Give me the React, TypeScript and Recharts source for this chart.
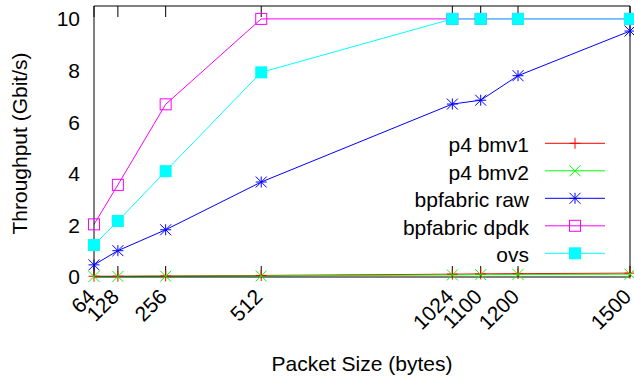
import React from "react";
import { LineChart, Line, XAxis, YAxis, Legend } from "recharts";

const packetSizes = [64, 128, 256, 512, 1024, 1100, 1200, 1500];
const p4Bmv1 = [0.03, 0.03, 0.04, 0.06, 0.11, 0.12, 0.13, 0.15];
const p4Bmv2 = [0.02, 0.02, 0.03, 0.04, 0.08, 0.09, 0.1, 0.11];
const bpfabricRaw = [0.47, 1.02, 1.83, 3.68, 6.7, 6.85, 7.8, 9.53];
const bpfabricDpdk = [2.04, 3.57, 6.69, 10, 10, 10, 10, 10];
const ovs = [1.24, 2.17, 4.1, 7.93, 10, 10, 10, 10];
const yTicks = [0, 2, 4, 6, 8, 10];

const FONT = '"Liberation Sans", Arial, sans-serif';
const FS = 21;

type Shape = "plus" | "cross" | "star" | "square" | "filled";

const series: { key: string; name: string; color: string; shape: Shape }[] = [
  { key: "bmv1", name: "p4 bmv1", color: "#ff0000", shape: "plus" },
  { key: "bmv2", name: "p4 bmv2", color: "#00ff00", shape: "cross" },
  { key: "raw", name: "bpfabric raw", color: "#0000ff", shape: "star" },
  { key: "dpdk", name: "bpfabric dpdk", color: "#ff00ff", shape: "square" },
  { key: "ovs", name: "ovs", color: "#00ffff", shape: "filled" },
];

const data = packetSizes.map((size, i) => ({
  size,
  bmv1: p4Bmv1[i],
  bmv2: p4Bmv2[i],
  raw: bpfabricRaw[i],
  dpdk: bpfabricDpdk[i],
  ovs: ovs[i],
}));

function Marker({ cx, cy, shape, color }: { cx: number; cy: number; shape: Shape; color: string }) {
  const h = 5.5;
  if (shape === "plus")
    return (
      <g stroke={color} strokeWidth={1}>
        <line x1={cx - h} y1={cy} x2={cx + h} y2={cy} />
        <line x1={cx} y1={cy - h} x2={cx} y2={cy + h} />
      </g>
    );
  if (shape === "cross")
    return (
      <g stroke={color} strokeWidth={1}>
        <line x1={cx - h} y1={cy - h} x2={cx + h} y2={cy + h} />
        <line x1={cx - h} y1={cy + h} x2={cx + h} y2={cy - h} />
      </g>
    );
  if (shape === "star")
    return (
      <g stroke={color} strokeWidth={1}>
        <line x1={cx - h} y1={cy} x2={cx + h} y2={cy} />
        <line x1={cx} y1={cy - h} x2={cx} y2={cy + h} />
        <line x1={cx - h} y1={cy - h} x2={cx + h} y2={cy + h} />
        <line x1={cx - h} y1={cy + h} x2={cx + h} y2={cy - h} />
      </g>
    );
  if (shape === "square")
    return <rect x={cx - h} y={cy - h} width={2 * h} height={2 * h} fill="none" stroke={color} strokeWidth={1} />;
  return <rect x={cx - 6} y={cy - 6} width={12} height={12} fill={color} stroke="none" />;
}

const makeDot = (shape: Shape, color: string) => (props: any) => (
  <Marker key={`${shape}-${props.index}`} cx={props.cx} cy={props.cy} shape={shape} color={color} />
);

const RotatedTick = (props: any) => {
  const { x, y, payload } = props;
  return (
    <text
      x={0}
      y={0}
      transform={`translate(${x + 2.5},${y + 21}) rotate(-45)`}
      textAnchor="end"
      fontSize={FS}
      fontFamily={FONT}
      fill="#000"
    >
      {payload.value}
    </text>
  );
};

const NoTick = () => <g />;

const renderLegend = () => (
  <svg width={634} height={378} style={{ position: "absolute", left: 0, top: 0, pointerEvents: "none" }}>
    {series.map((s, i) => {
      const y = 143.3 + i * 27.5;
      return (
        <g key={s.key}>
          <text x={529} y={y + 9} textAnchor="end" fontSize={FS} fontFamily={FONT} fill="#000">
            {s.name}
          </text>
          <line x1={545} y1={y} x2={605} y2={y} stroke={s.color} strokeWidth={1} />
          <Marker cx={575} cy={y} shape={s.shape} color={s.color} />
        </g>
      );
    })}
  </svg>
);

const frameAxis = {
  type: "number" as const,
  interval: 0 as const,
  mirror: true,
  tick: <NoTick />,
  tickSize: 11,
  tickLine: { stroke: "#000" },
  axisLine: { stroke: "#000" },
};

export default function App() {
  return (
    <div style={{ width: 634, height: 378, background: "#fff" }}>
      <style>{"body{margin:0}"}</style>
      <LineChart width={634} height={378} data={data} margin={{ top: 6, right: 4, left: 0, bottom: 0 }}>
        <XAxis
          dataKey="size"
          type="number"
          domain={[64, 1500]}
          ticks={packetSizes}
          interval={0}
          height={101}
          axisLine={false}
          tickLine={false}
          tickSize={0}
          tickMargin={0}
          tick={<RotatedTick />}
          label={{
            content: () => (
              <text x={362} y={371} textAnchor="middle" fontSize={FS} fontFamily={FONT} fill="#000">
                Packet Size (bytes)
              </text>
            ),
          }}
        />
        <XAxis {...frameAxis} xAxisId="bottomFrame" dataKey="size" domain={[64, 1500]} ticks={packetSizes} height={1} />
        <XAxis
          {...frameAxis}
          xAxisId="topFrame"
          orientation="top"
          dataKey="size"
          domain={[64, 1500]}
          ticks={packetSizes}
          height={1}
        />
        <YAxis
          type="number"
          domain={[0, 10.5]}
          ticks={yTicks}
          interval={0}
          width={94}
          axisLine={false}
          tickLine={false}
          tickSize={0}
          tickMargin={14}
          tick={{ fill: "#000", fontSize: FS, fontFamily: FONT }}
          label={{
            content: () => (
              <text
                x={0}
                y={0}
                transform="translate(27,143.5) rotate(-90)"
                textAnchor="middle"
                fontSize={FS}
                fontFamily={FONT}
                fill="#000"
              >
                Throughput (Gbit/s)
              </text>
            ),
          }}
        />
        <YAxis {...frameAxis} yAxisId="leftFrame" domain={[0, 10.5]} ticks={yTicks} width={1} />
        <YAxis {...frameAxis} yAxisId="rightFrame" orientation="right" domain={[0, 10.5]} ticks={yTicks} width={1} />
        <Legend content={renderLegend} wrapperStyle={{ position: "absolute", left: 0, top: 0, width: 0, height: 0 }} />
        {series.map((s) => (
          <Line
            key={s.key}
            type="linear"
            dataKey={s.key}
            name={s.name}
            stroke={s.color}
            strokeWidth={1}
            dot={makeDot(s.shape, s.color)}
            activeDot={false}
            isAnimationActive={false}
          />
        ))}
      </LineChart>
    </div>
  );
}
